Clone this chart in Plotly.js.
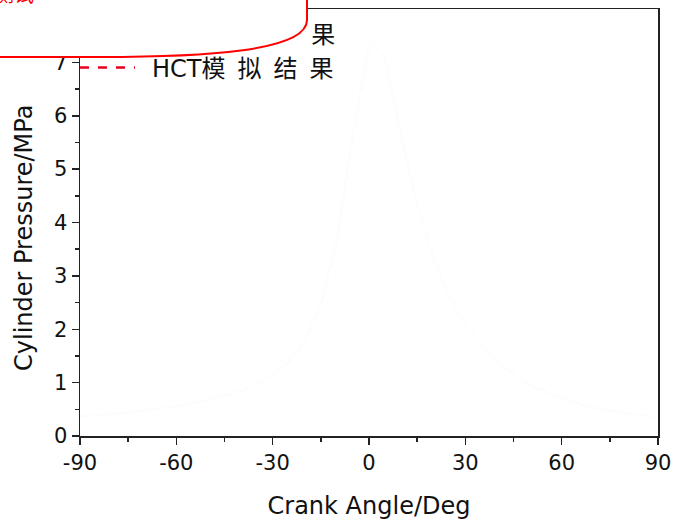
<!DOCTYPE html>
<html>
<head>
<meta charset="utf-8">
<script src="https://cdn.plot.ly/plotly-3.0.1.min.js"></script>
<style>
  html, body { margin: 0; padding: 0; background: #fff; }
  #wrap { position: relative; width: 675px; height: 520px; }
  #chart { position: absolute; left: 0; top: 0; width: 675px; height: 520px; }
  #callout { position: absolute; left: 0; top: 0; pointer-events: none; }
</style>
</head>
<body>
<div id="wrap">
  <div id="chart"></div>
  <svg id="callout" width="675" height="520" xmlns="http://www.w3.org/2000/svg">
    <path d="M -5,-5 L 307,-5 L 307,20 C 307,52 200,57 100,57 L -5,57 Z"
          fill="#ffffff" stroke="#ff0000" stroke-width="2"/>
    <text x="-6" y="2" fill="#ff0000" font-size="20" font-family="Noto Sans CJK SC">测试</text>
  </svg>
</div>
<script>
// Crank angle (deg)
const crankAngle = [-90, -80, -70, -60, -50, -40, -30, -25, -20, -15, -10, -5, 0, 5, 10, 15, 20, 25, 30, 40, 50, 60, 70, 80, 90];
// Experimental cylinder pressure (MPa) - trace is almost erased in the reference
const expPressure = [0.38, 0.42, 0.48, 0.56, 0.68, 0.85, 1.15, 1.40, 1.80, 2.50, 3.70, 5.70, 7.40, 7.10, 5.60, 4.30, 3.30, 2.60, 2.05, 1.35, 0.95, 0.70, 0.52, 0.42, 0.36];
// HCT simulation cylinder pressure (MPa)
const hctPressure = [0.36, 0.40, 0.46, 0.55, 0.66, 0.82, 1.10, 1.36, 1.75, 2.40, 3.55, 5.50, 7.20, 7.00, 5.70, 4.40, 3.40, 2.70, 2.15, 1.40, 0.98, 0.72, 0.54, 0.43, 0.37];
// Legend labels
const legendLabels = ["\u2002实 验 结\u2003\u2003\u2003果", "\u2002HCT模\u2002拟\u2002结\u2002果"];
// Axis ticks
const xTicks = [-90, -60, -30, 0, 30, 60, 90];
const yTicks = [0, 1, 2, 3, 4, 5, 6, 7, 8];
// Axis titles
const xTitle = 'Crank Angle/Deg';
const yTitle = 'Cylinder Pressure/MPa';

const fontFam = '"DejaVu Sans", "Noto Sans CJK SC", sans-serif';

const traces = [
  { x: crankAngle, y: expPressure, mode: 'lines', showlegend: false,
    line: { color: '#fdfcfa', width: 1 }, hoverinfo: 'skip' },
  { x: crankAngle, y: hctPressure, mode: 'lines', showlegend: false,
    line: { color: '#fefcfa', width: 1, dash: 'dash' }, hoverinfo: 'skip' },
  { x: [null], y: [null], mode: 'lines', name: legendLabels[0],
    line: { color: '#000000', width: 2 } },
  { x: [null], y: [null], mode: 'lines', name: legendLabels[1],
    line: { color: '#e8001c', width: 2.5, dash: 'dash' } }
];

const axisCommon = {
  showgrid: false, zeroline: false,
  showline: true, linecolor: '#222', linewidth: 1.5, mirror: true,
  ticks: 'outside', ticklen: 7, tickwidth: 1.5, tickcolor: '#222',
  tickfont: { family: fontFam, size: 21, color: '#111' },
  minor: { ticks: 'outside', ticklen: 4, tickwidth: 1.5, tickcolor: '#222' }
};

const layout = {
  width: 675, height: 520,
  margin: { l: 80, r: 17, t: 9, b: 84 },
  paper_bgcolor: '#fff', plot_bgcolor: '#fff',
  font: { family: fontFam, color: '#111' },
  xaxis: Object.assign({}, axisCommon, {
    range: [-90, 90], tickvals: xTicks, ticktext: xTicks.map(String),
    minor: Object.assign({}, axisCommon.minor, { dtick: 15, tick0: -90 }),
    title: { text: xTitle, font: { family: fontFam, size: 24, color: '#111' }, standoff: 23 }
  }),
  yaxis: Object.assign({}, axisCommon, {
    range: [0, 8], tickvals: yTicks, ticktext: yTicks.map(String),
    minor: Object.assign({}, axisCommon.minor, { dtick: 0.5, tick0: 0 }),
    title: { text: yTitle + '\u00a0\u00a0\u00a0\u00a0\u200d', font: { family: fontFam, size: 24, color: '#111' }, standoff: 14 }
  }),
  legend: {
    x: -0.0087, xanchor: 'left', y: 0.995, yanchor: 'top',
    bgcolor: 'rgba(0,0,0,0)', borderwidth: 0,
    font: { family: fontFam, size: 24, color: '#111' },
    itemwidth: 55, tracegroupgap: 0
  },
  showlegend: true
};

Plotly.newPlot('chart', traces, layout, { staticPlot: true, displayModeBar: false });
</script>
</body>
</html>
